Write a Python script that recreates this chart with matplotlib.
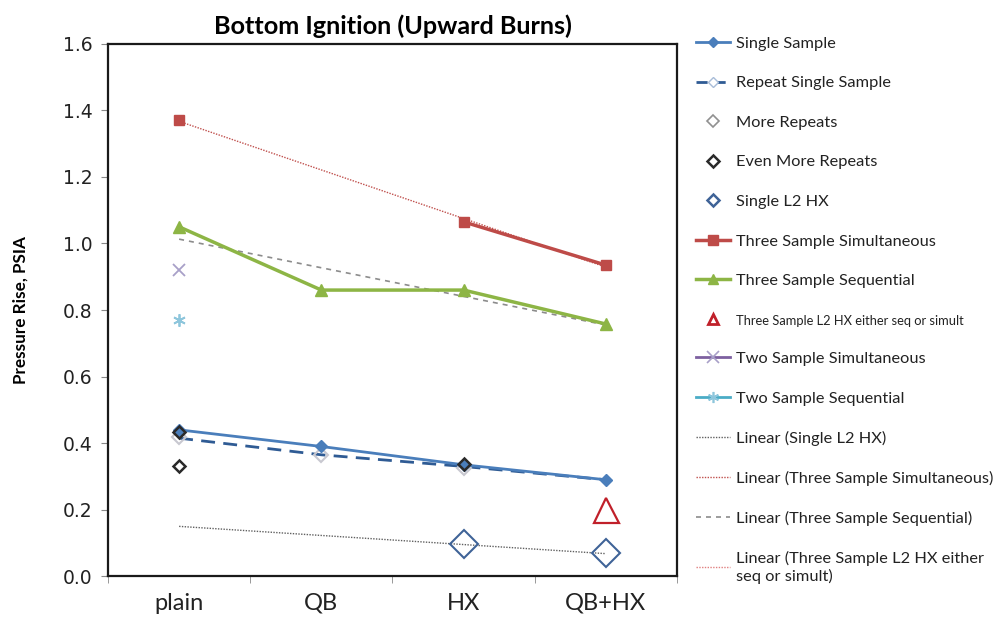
import numpy as np
import matplotlib
matplotlib.use("Agg")
import matplotlib.pyplot as plt
from matplotlib.lines import Line2D

# categories on the x axis (index positions 0..3)
categories = ["plain", "QB", "HX", "QB+HX"]

single_sample = [0.44, 0.39, 0.335, 0.29]
repeat_single = [0.415, 0.365, 0.33, 0.29]
more_repeats_x = [0, 1, 2]
more_repeats = [0.418, 0.364, 0.325]
even_more_x = [0, 0, 2]
even_more = [0.435, 0.33, 0.337]
single_l2hx_x = [2, 3]
single_l2hx = [0.096, 0.069]
three_simult = [1.37, np.nan, 1.065, 0.935]
three_seq = [1.05, 0.86, 0.86, 0.758]
three_l2hx_x = [3]
three_l2hx = [0.198]
two_simult_x = [0]
two_simult = [0.92]
two_seq_x = [0]
two_seq = [0.77]

# linear trendline endpoints (plain -> QB+HX)
trend_x = [0, 3]
trend_single_l2hx = [0.150, 0.068]
trend_three_simult = [1.367, 0.929]
trend_three_seq = [1.013, 0.755]

BLUE = "#4a7ebb"
DBLUE = "#2f5b94"
RED = "#be4b48"
GREEN = "#8db545"
HXBLUE = "#3f6397"

fig = plt.figure(figsize=(10, 6.17), dpi=100)
ax = fig.add_axes([0.108, 0.066, 0.569, 0.863])

x = np.arange(len(categories))

ax.plot(trend_x, trend_single_l2hx, ls=(0, (1, 1)), color="#606060", lw=1.0, zorder=2)
ax.plot(trend_x, trend_three_simult, ls=(0, (1, 1)), color="#c0504d", lw=1.0, zorder=2)
ax.plot(trend_x, trend_three_seq, ls=(0, (3, 3)), color="#8c8c8c", lw=1.2, zorder=2)

ax.plot(x, three_simult, color=RED, lw=2.5, marker="s", ms=7, mfc=RED, mec=RED, zorder=4)
ax.plot(x, three_seq, color=GREEN, lw=2.5, marker="^", ms=8, mfc=GREEN, mec=GREEN, zorder=4)
ax.plot(x, repeat_single, color=DBLUE, lw=2.0, ls=(0, (5, 3)), zorder=3)
ax.plot(x, single_sample, color=BLUE, lw=2.0, marker="D", ms=6, mfc=BLUE, mec=BLUE, zorder=4)
ax.plot(more_repeats_x, more_repeats, ls="none", marker="D", ms=7, mfc="none",
        mec="#c8c8d0", mew=1.5, zorder=3)
ax.plot(even_more_x, even_more, ls="none", marker="D", ms=6, mfc="none",
        mec="#2a2a2a", mew=1.8, zorder=5)
ax.plot(single_l2hx_x, single_l2hx, ls="none", marker="D", ms=14, mfc="none",
        mec=HXBLUE, mew=1.5, zorder=5)
ax.plot(three_l2hx_x, three_l2hx, ls="none", marker="^", ms=18, mfc="none",
        mec="#c0202a", mew=1.6, zorder=5)
ax.plot(two_simult_x, two_simult, ls="none", marker="x", ms=9, mec="#a8a0c8",
        mew=1.3, zorder=5)
ax.plot(two_seq_x, two_seq, ls="none", marker=(6, 2, 0), ms=9, mec="#8ec6dc",
        mew=1.3, zorder=5)

ax.set_xlim(-0.5, 3.5)
ax.set_ylim(0, 1.6)
ax.set_yticks(np.arange(0, 1.61, 0.2))
ax.set_yticklabels([f"{v:.1f}" for v in np.arange(0, 1.61, 0.2)],
                   fontsize=13.5, family="DejaVu Sans", color="#222222")
ax.set_xticks(x)
ax.set_xticklabels(categories, fontsize=17, family="Lato", color="#222222")
ax.set_xticks(np.arange(-0.5, 3.6, 1), minor=True)
ax.tick_params(axis="x", which="major", length=0, pad=12)
ax.tick_params(axis="x", which="minor", length=5, color="#888888")
ax.tick_params(axis="y", length=5, color="#888888", pad=6)
for s in ax.spines.values():
    s.set_linewidth(1.6)
    s.set_color("#1a1a1a")

ax.set_ylabel("Pressure Rise, PSIA", fontsize=12.3, fontweight="bold", family="Lato",
              labelpad=25)
ax.set_title("Bottom Ignition (Upward Burns)", fontsize=18.2, fontweight="bold",
             family="Lato", pad=7)

handles = [
    Line2D([], [], color=BLUE, lw=2, marker="D", ms=5, mfc=BLUE, mec=BLUE),
    Line2D([], [], color=DBLUE, lw=2, ls=(0, (4, 2.5)), marker="D", ms=5,
           mfc="white", mec="#a8bcd8"),
    Line2D([], [], ls="none", marker="D", ms=6, mfc="none", mec="#909090", mew=1.2),
    Line2D([], [], ls="none", marker="D", ms=6, mfc="none", mec="#2a2a2a", mew=1.8),
    Line2D([], [], ls="none", marker="D", ms=6, mfc="none", mec=HXBLUE, mew=1.8),
    Line2D([], [], color=RED, lw=2.5, marker="s", ms=7, mfc=RED, mec=RED),
    Line2D([], [], color=GREEN, lw=2.5, marker="^", ms=7, mfc=GREEN, mec=GREEN),
    Line2D([], [], ls="none", marker="^", ms=7, mfc="none", mec="#c0202a", mew=2),
    Line2D([], [], color="#7d60a0", lw=2, marker="x", ms=8, mec="#a8a0c8", mew=1.2),
    Line2D([], [], color="#4bacc6", lw=2, marker=(6, 2, 0), ms=8, mec="#8ec6dc", mew=1.2),
    Line2D([], [], color="#606060", lw=1, ls=(0, (1, 1))),
    Line2D([], [], color="#c0504d", lw=1, ls=(0, (1, 1))),
    Line2D([], [], color="#8c8c8c", lw=1.2, ls=(0, (3, 3))),
    Line2D([], [], color="#e08080", lw=1, ls=(0, (1, 1))),
]
labels = [
    "Single Sample",
    "Repeat Single Sample",
    "More Repeats",
    "Even More Repeats",
    "Single L2 HX",
    "Three Sample Simultaneous",
    "Three Sample Sequential",
    "Three Sample L2 HX either seq or simult",
    "Two Sample Simultaneous",
    "Two Sample Sequential",
    "Linear (Single L2 HX)",
    "Linear (Three Sample Simultaneous)",
    "Linear (Three Sample Sequential)",
    "Linear (Three Sample L2 HX either\nseq or simult)",
]
leg = fig.legend(handles, labels, loc="upper left", bbox_to_anchor=(0.681, 0.965),
                 frameon=False, prop={"family": "Lato", "size": 11.8},
                 handlelength=2.1, handletextpad=0.35, labelspacing=1.53)
for t in leg.get_texts():
    t.set_color("#222222")
leg.get_texts()[7].set_fontsize(9.3)

fig.savefig("out.png", dpi=100)
